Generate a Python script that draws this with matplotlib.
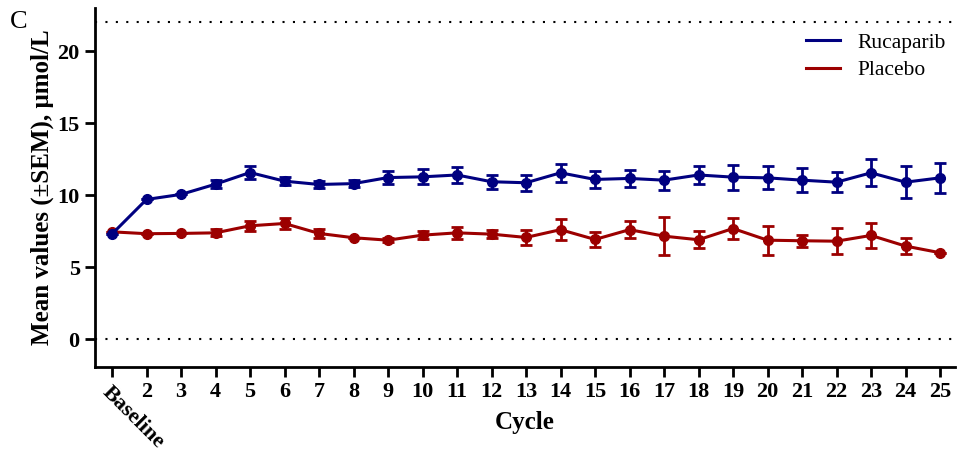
import numpy as np
import matplotlib.pyplot as plt

plt.rcParams['font.family'] = ['Liberation Serif', 'DejaVu Serif']

cycles = list(range(1, 26))
tick_labels = ['Baseline'] + [str(c) for c in range(2, 26)]

ruca_mean = [7.3, 9.7, 10.05, 10.76, 11.57, 10.97, 10.74, 10.8, 11.22, 11.27, 11.4,
             10.93, 10.86, 11.55, 11.09, 11.16, 11.04, 11.4, 11.25, 11.2, 11.04,
             10.9, 11.55, 10.9, 11.2]
ruca_sem = [0.0, 0.0, 0.0, 0.29, 0.43, 0.3, 0.25, 0.25, 0.44, 0.52, 0.55,
            0.5, 0.54, 0.61, 0.61, 0.58, 0.65, 0.65, 0.87, 0.8, 0.83,
            0.7, 0.95, 1.1, 1.04]

plac_mean = [7.45, 7.32, 7.34, 7.38, 7.87, 8.03, 7.34, 7.04, 6.87, 7.22, 7.38,
             7.29, 7.06, 7.6, 6.92, 7.6, 7.15, 6.9, 7.68, 6.87, 6.83,
             6.8, 7.2, 6.46, 6.0]
plac_sem = [0.0, 0.0, 0.0, 0.25, 0.35, 0.35, 0.3, 0.0, 0.15, 0.3, 0.4,
            0.3, 0.52, 0.72, 0.54, 0.61, 1.33, 0.6, 0.73, 1.0, 0.4,
            0.9, 0.85, 0.55, 0.0]

blue = '#000080'
red = '#9c0000'

fig = plt.figure(figsize=(9.57, 4.57), dpi=100)
ax = fig.add_axes([95 / 957, 90 / 457, 860 / 957, 359 / 457])

ax.axhline(22, color='black', linestyle=(0, (1, 4)), linewidth=1.5, zorder=1)
ax.axhline(0, color='black', linestyle=(0, (1, 4)), linewidth=1.5, zorder=1)

for mean, sem, col in [(plac_mean, plac_sem, red), (ruca_mean, ruca_sem, blue)]:
    ax.errorbar(cycles, mean, yerr=sem, color=col, linewidth=2.2, marker='o',
                markersize=7, elinewidth=2, capsize=4, capthick=2, zorder=3)

# legend handles without markers
h1, = ax.plot([], [], color=blue, linewidth=2.2, label='Rucaparib')
h2, = ax.plot([], [], color=red, linewidth=2.2, label='Placebo')
ax.legend(handles=[h1, h2], loc='upper right', frameon=False, fontsize=15.5,
          handlelength=1.6, handletextpad=0.8, bbox_to_anchor=(1.012, 0.985),
          labelspacing=0.35)

ax.set_xlim(1 - 17 / 34.5, 25 + 15 / 34.5)
ax.set_ylim(-1.94, 23)
ax.set_yticks([0, 5, 10, 15, 20])
ax.set_xticks(cycles)
ax.set_xticklabels(tick_labels)

for lbl in ax.get_xticklabels() + ax.get_yticklabels():
    lbl.set_fontweight('bold')
    lbl.set_fontsize(16)
base = ax.get_xticklabels()[0]
base.set_rotation(-45)
base.set_ha('left')
base.set_va('top')
base.set_rotation_mode('anchor')

ax.spines['top'].set_visible(False)
ax.spines['right'].set_visible(False)
ax.spines['left'].set_linewidth(2)
ax.spines['bottom'].set_linewidth(2)
ax.tick_params(direction='out', length=7, width=2, pad=4)

ax.set_xlabel('Cycle', fontsize=18, fontweight='bold', va='center')
ax.xaxis.set_label_coords(0.5, (367 - 422) / 359)
ax.set_ylabel('Mean values (±SEM), μmol/L', fontsize=18, fontweight='bold', va='center')
ax.yaxis.set_label_coords(-(95 - 42) / 860, 0.5)

fig.text(10 / 957, 1 - 22 / 457, 'C', fontsize=19, va='center', ha='left')

fig.savefig('out.png', dpi=100)
